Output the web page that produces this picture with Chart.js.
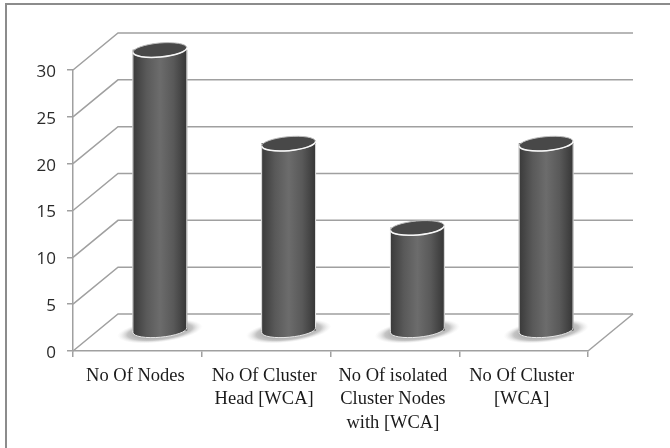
<!DOCTYPE html>
<html>
<head>
<meta charset="utf-8">
<style>
html, body { margin: 0; padding: 0; background: #fff; }
canvas { display: block; filter: blur(0.4px); }
</style>
<script src="https://cdn.jsdelivr.net/npm/chart.js@4"></script>
</head>
<body>
<canvas id="chart" width="670" height="448"></canvas>
<script>
const categories = [
    'No Of Nodes',
    ['No Of Cluster', 'Head [WCA]'],
    ['No Of isolated', 'Cluster Nodes', 'with [WCA]'],
    ['No Of Cluster', '[WCA]']
];
const values = [30, 20, 11, 20];
const yTicks = [0, 5, 10, 15, 20, 25, 30];

const depthX = 45, depthY = 37;
const gridColor = '#a0a0a0';
const barWidth = 54;
const barRise = 7;
const barLift = 20;

function barFill(context) {
    const c = context.chart.ctx;
    const x = context.chart.scales.x.getPixelForValue(context.dataIndex);
    if (!Number.isFinite(x)) return '#555555';
    const g = c.createLinearGradient(x - barWidth / 2, 0, x + barWidth / 2, 0);
    g.addColorStop(0, '#3a3a3a');
    g.addColorStop(0.25, '#595959');
    g.addColorStop(0.5, '#6c6c6c');
    g.addColorStop(0.75, '#595959');
    g.addColorStop(1, '#363636');
    return g;
}

// back walls, floor and frame
const wallsPlugin = {
    id: 'walls',
    beforeDatasetsDraw(chart) {
        const { ctx, scales: { x, y } } = chart;
        ctx.save();
        ctx.strokeStyle = '#8c8c8c';
        ctx.lineWidth = 2;
        ctx.beginPath();
        ctx.moveTo(6, 448);
        ctx.lineTo(6, 4);
        ctx.lineTo(670, 4);
        ctx.stroke();
        ctx.strokeStyle = gridColor;
        ctx.lineWidth = 1.5;
        yTicks.forEach(t => {
            const py = y.getPixelForValue(t);
            ctx.beginPath();
            ctx.moveTo(x.left, py);
            ctx.lineTo(x.left + depthX, py - depthY);
            ctx.lineTo(x.right + depthX, py - depthY);
            ctx.stroke();
        });
        ctx.beginPath();
        ctx.moveTo(x.right, y.bottom);
        ctx.lineTo(x.right + depthX, y.bottom - depthY);
        ctx.stroke();
        ctx.restore();
    }
};

// moves the bars to mid depth and turns them into cylinders
const cylinderPlugin = {
    id: 'cylinder',
    beforeDatasetDraw(chart) {
        const { ctx } = chart;
        ctx.save();
        ctx.translate(depthX / 2, -barLift);
        chart.getDatasetMeta(0).data.forEach(bar => {
            ctx.save();
            ctx.translate(bar.x, bar.base + 1);
            ctx.rotate(-0.12);
            ctx.scale(1, 0.26);
            const g = ctx.createRadialGradient(0, 0, 20, 0, 0, 43);
            g.addColorStop(0, 'rgba(140,140,140,0.85)');
            g.addColorStop(0.55, 'rgba(165,165,165,0.65)');
            g.addColorStop(1, 'rgba(225,225,225,0)');
            ctx.fillStyle = g;
            ctx.beginPath();
            ctx.arc(0, 0, 43, 0, Math.PI * 2);
            ctx.fill();
            ctx.restore();
        });
    },
    afterDatasetDraw(chart) {
        const { ctx } = chart;
        const r = barWidth / 2;
        const tilt = -0.09;
        chart.getDatasetMeta(0).data.forEach(bar => {
            // rounded foot of the cylinder
            ctx.fillStyle = bar.options.backgroundColor;
            ctx.beginPath();
            ctx.moveTo(bar.x - r, bar.base - 8);
            ctx.ellipse(bar.x, bar.base, r, barRise, tilt, Math.PI, 0, true);
            ctx.lineTo(bar.x + r, bar.base - 8);
            ctx.closePath();
            ctx.fill();
            ctx.strokeStyle = '#e8e8e8';
            ctx.lineWidth = 1;
            ctx.beginPath();
            ctx.moveTo(bar.x - r, bar.y);
            ctx.lineTo(bar.x - r, bar.base);
            ctx.ellipse(bar.x, bar.base, r, barRise, tilt, Math.PI, 0, true);
            ctx.lineTo(bar.x + r, bar.y);
            ctx.stroke();
            // top face, bright only on its front edge
            ctx.fillStyle = '#484848';
            ctx.beginPath();
            ctx.ellipse(bar.x, bar.y, r, barRise, tilt, 0, Math.PI * 2);
            ctx.fill();
            ctx.strokeStyle = '#bdbdbd';
            ctx.lineWidth = 1;
            ctx.stroke();
            ctx.strokeStyle = '#f7f7f7';
            ctx.lineWidth = 1.5;
            ctx.beginPath();
            ctx.ellipse(bar.x, bar.y, r, barRise, tilt, Math.PI, 0, true);
            ctx.stroke();
        });
        ctx.restore();
    }
};

new Chart(document.getElementById('chart'), {
    type: 'bar',
    data: {
        labels: categories,
        datasets: [{
            data: values,
            backgroundColor: barFill,
            borderWidth: 0,
            barThickness: barWidth,
            clip: false
        }]
    },
    options: {
        responsive: false,
        animation: false,
        layout: { padding: { top: 70, right: 82, left: 0, bottom: 0 } },
        plugins: { legend: { display: false }, tooltip: { enabled: false } },
        scales: {
            x: {
                afterFit(scale) { scale.height = 97; },
                grid: { drawOnChartArea: false, color: gridColor, tickLength: 6, lineWidth: 1.5 },
                border: { color: gridColor, width: 1.5 },
                ticks: {
                    color: '#1a1a1a',
                    maxRotation: 0,
                    autoSkip: false,
                    padding: 7,
                    labelOffset: -2,
                    font: { family: '"Liberation Serif"', size: 18.5, lineHeight: 1.27 }
                }
            },
            y: {
                min: 0,
                max: 30,
                afterFit(scale) { scale.width = 73; },
                grid: { drawOnChartArea: false, color: gridColor, tickLength: 6, lineWidth: 1.5 },
                border: { color: gridColor, width: 1.5 },
                ticks: {
                    stepSize: 5,
                    color: '#2a2a2a',
                    padding: 11,
                    labelOffset: 2,
                    font: { family: '"Open Sans"', size: 17 }
                }
            }
        }
    },
    plugins: [wallsPlugin, cylinderPlugin]
});
</script>
</body>
</html>
